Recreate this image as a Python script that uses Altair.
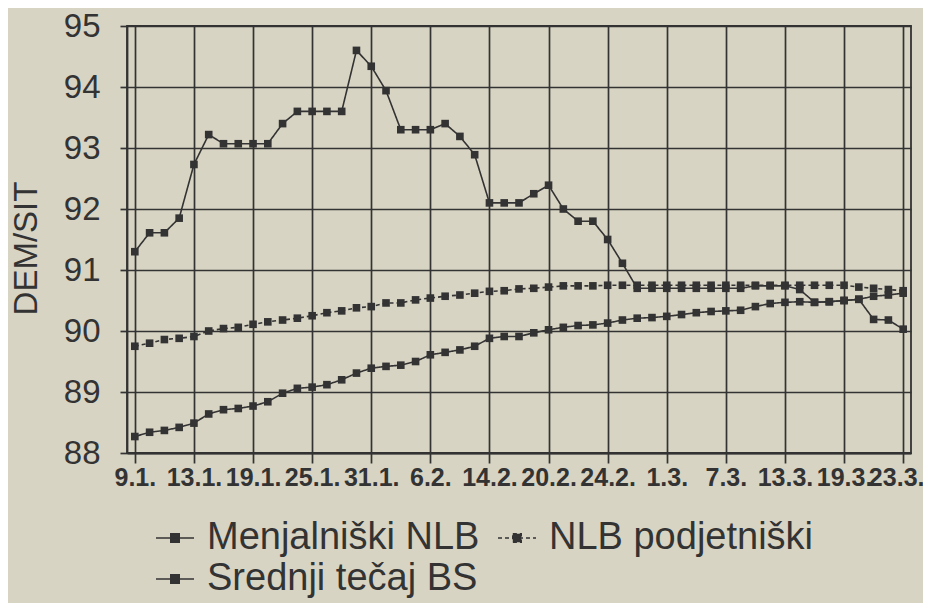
import altair as alt
import pandas as pd

# tick labels shown every 4th trading day
date_labels = ["9.1.", "13.1.", "19.1.", "25.1.", "31.1.", "6.2.", "14.2.",
               "20.2.", "24.2.", "1.3.", "7.3.", "13.3.", "19.3.", "23.3."]

series_names = ["Menjalniški NLB", "NLB podjetniški", "Srednji tečaj BS"]

menjalniski = [91.30, 91.61, 91.61, 91.85, 92.73, 93.22, 93.07, 93.07, 93.07, 93.07,
               93.40, 93.60, 93.60, 93.60, 93.60, 94.60, 94.34, 93.94, 93.30, 93.30,
               93.30, 93.40, 93.19, 92.89, 92.10, 92.10, 92.10, 92.25, 92.39, 92.00,
               91.80, 91.80, 91.50, 91.11, 90.70, 90.70, 90.70, 90.70, 90.70, 90.70,
               90.70, 90.70, 90.74, 90.74, 90.74, 90.68, 90.47, 90.48, 90.50, 90.52,
               90.19, 90.18, 90.03]

podjetniski = [89.75, 89.80, 89.86, 89.88, 89.91, 90.00, 90.04, 90.06, 90.11, 90.15,
               90.18, 90.21, 90.25, 90.30, 90.33, 90.38, 90.40, 90.46, 90.46, 90.51,
               90.54, 90.57, 90.59, 90.62, 90.65, 90.66, 90.69, 90.70, 90.72, 90.74,
               90.74, 90.74, 90.75, 90.75, 90.75, 90.75, 90.75, 90.75, 90.75, 90.75,
               90.75, 90.75, 90.75, 90.75, 90.75, 90.75, 90.75, 90.75, 90.75, 90.72,
               90.70, 90.68, 90.66]

srednji = [88.27, 88.34, 88.37, 88.42, 88.49, 88.64, 88.71, 88.73, 88.77, 88.84,
           88.98, 89.06, 89.08, 89.12, 89.20, 89.31, 89.39, 89.42, 89.44, 89.50,
           89.61, 89.65, 89.69, 89.75, 89.88, 89.91, 89.91, 89.97, 90.02, 90.06,
           90.09, 90.10, 90.13, 90.18, 90.21, 90.22, 90.24, 90.27, 90.30, 90.32,
           90.33, 90.34, 90.40, 90.45, 90.47, 90.48, 90.47, 90.48, 90.50, 90.52,
           90.57, 90.59, 90.62]

rows = []
for name, vals in zip(series_names, [menjalniski, podjetniski, srednji]):
    for i, v in enumerate(vals):
        rows.append({"idx": i, "value": v, "series": name})
df = pd.DataFrame(rows)

n = len(menjalniski)
ink = "#333333"
bg = "#d8d4c4"

label_array = "[" + ",".join("'" + s + "'" for s in date_labels) + "]"
x_label_expr = f"datum.value % 4 == 0 ? {label_array}[datum.value / 4] : ''"

x_enc = alt.X(
    "idx:Q",
    scale=alt.Scale(domain=[-0.53, n - 1 + 0.53], nice=False, zero=False),
    axis=alt.Axis(
        values=list(range(n)),
        labelExpr=x_label_expr,
        labelOverlap=False,
        labelFont="Liberation Sans",
        labelFontWeight="bold",
        labelFontSize=25,
        labelColor=ink,
        labelPadding=2,
        labelOffset={"condition": {"test": f"datum.value == {n - 1}", "value": -7}, "value": 0},
        tickSize=10,
        tickColor=ink,
        tickWidth=1.7,
        domainColor=ink,
        domainWidth=1.8,
        grid=True,
        gridColor=ink,
        gridWidth=1.7,
        title=None,
    ),
)

y_vals = [88 + 0.5 * k for k in range(15)]
y_enc = alt.Y(
    "value:Q",
    scale=alt.Scale(domain=[88, 95], nice=False, zero=False),
    axis=alt.Axis(
        values=y_vals,
        format=".0f",
        labelExpr="datum.value % 1 == 0 ? datum.label : ''",
        labelFont="Liberation Sans",
        labelFontSize=33,
        labelColor=ink,
        labelPadding=20,
        tickSize=7,
        tickColor=ink,
        tickWidth=1.7,
        domainColor=ink,
        domainWidth=1.8,
        grid=True,
        gridColor=ink,
        gridWidth=1.7,
        title="DEM/SIT",
        titleFont="Liberation Sans",
        titleFontSize=33,
        titleFontWeight="normal",
        titleColor=ink,
        titleX=-101,
        titleY=222,
        titleAngle=270,
        titleAlign="center",
        titleBaseline="middle",
    ),
)

legend = alt.Legend(
    title=None,
    orient="none",
    direction="horizontal",
    legendX=28,
    legendY=492,
    columns=2,
    columnPadding=14,
    rowPadding=2,
    labelFont="Liberation Sans",
    labelFontSize=38,
    labelColor=ink,
    labelOffset=12,
    labelLimit=400,
    symbolType="M-1,0H1M-0.22,-0.22H0.22V0.22H-0.22Z",
    symbolSize=1444,
    symbolStrokeWidth=2.2,
    symbolFillColor=ink,
)

lines = alt.Chart(df).mark_line().encode(
    x=x_enc,
    y=y_enc,
    color=alt.Color("series:N", scale=alt.Scale(domain=series_names, range=[ink, ink, ink]), legend=legend),
    strokeDash=alt.StrokeDash("series:N", scale=alt.Scale(domain=series_names, range=[[1, 0], [4, 3], [1, 0]]), legend=legend),
    strokeWidth=alt.StrokeWidth("series:O", scale=alt.Scale(domain=series_names, range=[1.6, 1.6, 3.8]), legend=None),
)

points = alt.Chart(df).mark_point(shape="square", filled=True, size=58, opacity=1, color=ink).encode(
    x="idx:Q",
    y="value:Q",
    detail="series:N",
)

chart = (
    alt.layer(lines, points)
    .properties(
        width=784,
        height=427,
        background=bg,
        padding={"left": 119, "top": 18, "right": 12, "bottom": 150},
        autosize=alt.AutoSizeParams(type="none"),
    )
    .configure_view(stroke=ink, strokeWidth=1.8)
)

chart.save("out.html", embed_options={"renderer": "svg", "actions": False})
